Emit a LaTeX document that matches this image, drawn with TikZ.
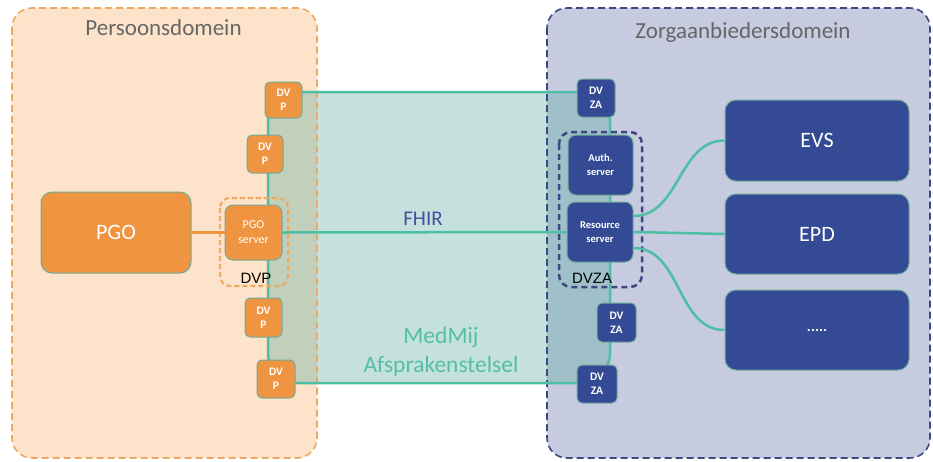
\documentclass[tikz,border=0pt]{standalone}
\usepackage{fontspec}
\setmainfont{Carlito}
\newfontfamily\arialfont{Liberation Sans}
\definecolor{peach}{RGB}{253,227,202}
\definecolor{peachborder}{RGB}{238,168,98}
\definecolor{lav}{RGB}{198,203,224}
\definecolor{navyborder}{RGB}{62,72,128}
\definecolor{orangebox}{RGB}{239,148,64}
\definecolor{navybox}{RGB}{52,74,148}
\definecolor{tealline}{RGB}{77,191,165}
\definecolor{tealfill}{RGB}{100,176,165}
\definecolor{titlegray}{RGB}{102,102,102}
\definecolor{fhirblue}{RGB}{63,81,160}
\definecolor{boxedge}{RGB}{112,172,156}
\definecolor{medmijtext}{RGB}{85,190,165}
\tikzset{
  obox/.style={draw=boxedge, line width=1pt, fill=orangebox, rounded corners=5pt,
    text=white, align=center, inner sep=0pt},
  nbox/.style={draw=boxedge, line width=1pt, fill=navybox, rounded corners=6pt,
    text=white, align=center, inner sep=0pt},
  dvpbox/.style={obox, font=\fontsize{11.5}{14}\selectfont\bfseries},
  dvzabox/.style={nbox, minimum width=38pt, minimum height=38pt, rounded corners=5pt,
    font=\fontsize{11.5}{14}\selectfont\bfseries},
  srvbox/.style={nbox, minimum width=66pt, minimum height=60pt, rounded corners=8pt,
    font=\fontsize{10.5}{14}\selectfont\bfseries},
  bigbox/.style={nbox, minimum width=184pt, minimum height=80pt, rounded corners=11pt,
    font=\fontsize{22}{26}\selectfont},
  conn/.style={draw=tealline, line width=2.5pt},
  title/.style={anchor=base, text=titlegray, font=\fontsize{23}{27}\selectfont},
  grouplabel/.style={anchor=base, text=black, font=\arialfont\fontsize{15}{17}\selectfont},
}
\begin{document}
\begin{tikzpicture}[x=1pt,y=-1pt]
\useasboundingbox (0,0) rectangle (933,461);
% domain fills
\fill[peach, rounded corners=20pt] (12,8) rectangle (317,458);
\fill[lav, rounded corners=20pt] (547,8) rectangle (930,458);
% MedMij region fill
\fill[tealfill, opacity=0.38, rounded corners=30pt] (268,92) rectangle (610,383);
% domain borders
\draw[peachborder, line width=1.6pt, dash pattern=on 7pt off 4pt, rounded corners=20pt] (12,8) rectangle (317,458);
\draw[navyborder, line width=1.6pt, dash pattern=on 7pt off 4pt, rounded corners=20pt] (547,8) rectangle (930,458);
% MedMij region border
\draw[conn, rounded corners=30pt] (268,92) rectangle (610,383);
% titles
\node[title] (tp) at (163.5,35) {Persoonsdomein};
\node[title] (tz) at (743,38) {Zorgaanbiedersdomein};
% group boxes
\draw[peachborder, line width=2pt, dash pattern=on 5pt off 3pt, rounded corners=10pt] (220,198) rectangle (288,286);
\draw[navyborder, line width=2.5pt, dash pattern=on 6pt off 4pt, rounded corners=12pt] (559,132) rectangle (642,287);
\node[grouplabel] (ldvp) at (256,283) {DVP};
\node[grouplabel] (ldvza) at (592,283) {DVZA};
% labels
\node[anchor=base, text=fhirblue, font=\fontsize{21}{25}\selectfont] (fhir) at (423,225) {FHIR};
\node[anchor=base, text=medmijtext, font=\fontsize{23.5}{28}\selectfont] (mm1) at (441,343) {MedMij};
\node[anchor=base, text=medmijtext, font=\fontsize{23.5}{28}\selectfont] (mm2) at (441,372) {Afsprakenstelsel};
% nodes left
\node[obox, minimum width=150pt, minimum height=81pt, rounded corners=11pt,
  font=\fontsize{22}{26}\selectfont] (pgo) at (116,232.5) {PGO};
\node[obox, minimum width=57pt, minimum height=55pt, rounded corners=8pt,
  font=\fontsize{12}{15}\selectfont] (pgoserver) at (253.5,232.5) {PGO\\server};
\node[dvpbox, minimum width=37pt, minimum height=36pt] (dvp1) at (283.5,100) {DV\\P};
\node[dvpbox, minimum width=36pt, minimum height=38pt] (dvp2) at (265,154) {DV\\P};
\node[dvpbox, minimum width=37pt, minimum height=39pt] (dvp3) at (263.5,317.5) {DV\\P};
\node[dvpbox, minimum width=38pt, minimum height=38pt] (dvp4) at (276,379) {DV\\P};
% nodes right
\node[dvzabox] (dvza1) at (596,98) {DV\\ZA};
\node[dvzabox, minimum width=39pt, minimum height=39pt] (dvza2) at (616.5,322.5) {DV\\ZA};
\node[dvzabox, minimum width=40pt] (dvza3) at (597,384) {DV\\ZA};
\node[srvbox, minimum width=65pt] (auth) at (600.5,165) {Auth.\\server};
\node[srvbox] (resource) at (600,232) {Resource\\server};
\node[bigbox, minimum height=81pt] (evs) at (817,140.5) {EVS};
\node[bigbox] (epd) at (817,234) {EPD};
\node[bigbox] (dots) at (817,330) {\fontsize{15}{16}\selectfont\bfseries .....};
% connectors
\draw[orangebox, line width=2.5pt] (pgo.east) -- (pgoserver.west);
\draw[conn] (pgoserver.east) -- (resource.west);
\draw[conn] ([yshift=16pt]resource.east) to[out=0, in=180] (evs.west);
\draw[conn] (resource.east) -- (epd.west);
\draw[conn] ([yshift=-16pt]resource.east) to[out=0, in=180] (dots.west);
\end{tikzpicture}
\end{document}
